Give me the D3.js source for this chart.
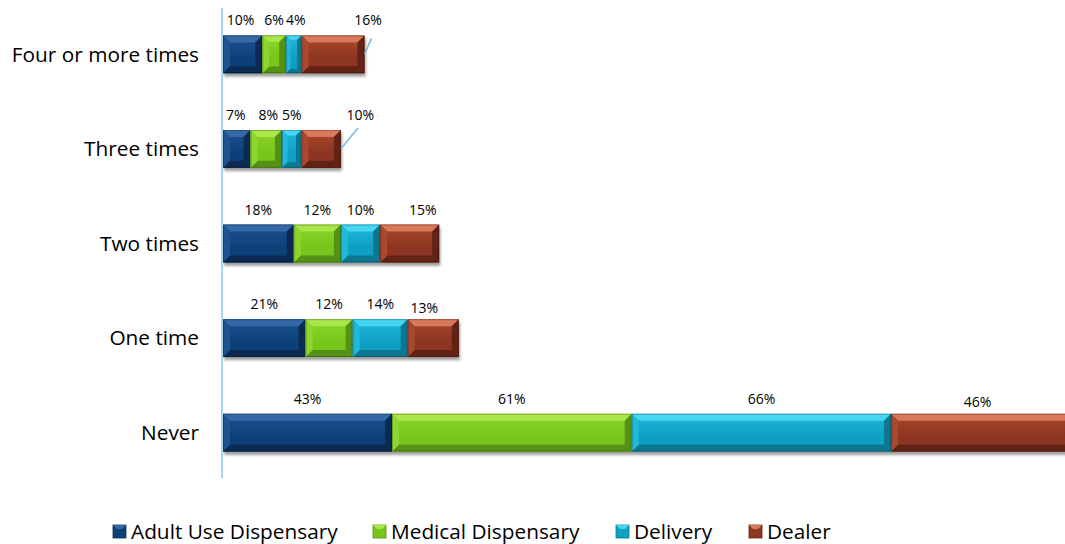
<!DOCTYPE html>
<html><head><meta charset="utf-8">
<script src="https://cdn.jsdelivr.net/npm/d3@7"></script>
<style>
html,body{margin:0;padding:0;background:#fff;overflow:hidden}
svg{display:block;font-family:"Open Sans",Lato,sans-serif}
</style></head><body>
<svg id="chart" width="1065" height="544"></svg>
<script>
const categories = ["Four or more times","Three times","Two times","One time","Never"];
const seriesNames = ["Adult Use Dispensary","Medical Dispensary","Delivery","Dealer"];
const adultUse = [10,7,18,21,43];
const medical = [6,8,12,12,61];
const delivery = [4,5,10,14,66];
const dealer = [16,10,15,13,46];
const seriesValues = [adultUse, medical, delivery, dealer];

const colors = [
  {base:"#0f4179", light:"#3569a6", dark:"#082b52", side:"#1c5290"},
  {base:"#78c51c", light:"#a8e64a", dark:"#559112", side:"#8bd72e"},
  {base:"#0fa0c2", light:"#45d6f2", dark:"#0a7690", side:"#22b8da"},
  {base:"#8d3620", light:"#d9785a", dark:"#622414", side:"#a8492e"}
];
// label nudges (px) for crowded labels: [category][series] -> [dx,dy]
const labelNudge = {"0-0":[-2,0],"0-2":[2,0],"0-3":[35,0],"1-0":[-1,0],"1-1":[2,0],"1-3":[39,0],"2-3":[13,0],"3-3":[-9,4],"4-3":[-4,3]};
const leaderCats = [0,1];

const svg = d3.select("#chart");
const x = d3.scaleLinear().domain([0,215]).range([223,1068]);
const y = d3.scaleBand().domain(categories).range([7,480]).paddingInner(0.6).paddingOuter(0.3);

const defs = svg.append("defs");
const f = defs.append("filter").attr("id","sh").attr("x","-5%").attr("y","-20%").attr("width","110%").attr("height","160%");
f.append("feGaussianBlur").attr("in","SourceAlpha").attr("stdDeviation",1.6);
f.append("feOffset").attr("dx",1).attr("dy",2.5).attr("result","b");
f.append("feComponentTransfer").append("feFuncA").attr("type","linear").attr("slope",0.4);
const m = f.append("feMerge"); m.append("feMergeNode"); m.append("feMergeNode").attr("in","SourceGraphic");

colors.forEach((c,i)=>{
  const g = defs.append("linearGradient").attr("id","g"+i).attr("x1",0).attr("x2",0).attr("y1",0).attr("y2",1);
  g.append("stop").attr("offset","0%").attr("stop-color",c.side);
  g.append("stop").attr("offset","60%").attr("stop-color",c.base);
  g.append("stop").attr("offset","100%").attr("stop-color",c.base);
});

// category labels
svg.append("g").selectAll("text").data(categories).join("text")
  .attr("x",199).attr("y",d=>y(d)+y.bandwidth()/2).attr("dy","0.35em")
  .attr("text-anchor","end").attr("font-size",20.8).attr("fill","#000").text(d=>d);

// stacked data
const rows = categories.map((c,ci)=>{let acc=0; return seriesValues.map((s,si)=>{const o={ci,si,cat:c,v:s[ci],x0:acc,x1:acc+s[ci]}; acc+=s[ci]; return o;});}).flat();

const bars = svg.append("g").attr("filter","url(#sh)");
rows.forEach(d=>{
  const x0=x(d.x0), x1=x(d.x1), yy=y(d.cat), h=y.bandwidth(), w=x1-x0;
  const b=Math.min(7, w/3.5, h/3.5);
  const c=colors[d.si];
  const g=bars.append("g");
  g.append("rect").attr("x",x0).attr("y",yy).attr("width",w).attr("height",h).attr("fill",`url(#g${d.si})`);
  const poly=(pts,fill)=>g.append("polygon").attr("points",pts.map(p=>p.join(",")).join(" ")).attr("fill",fill);
  poly([[x0,yy],[x1,yy],[x1-b,yy+b],[x0+b,yy+b]], c.light);
  poly([[x0,yy+h],[x1,yy+h],[x1-b,yy+h-b],[x0+b,yy+h-b]], c.dark);
  poly([[x0,yy],[x0+b,yy+b],[x0+b,yy+h-b],[x0,yy+h]], c.side);
  poly([[x1,yy],[x1-b,yy+b],[x1-b,yy+h-b],[x1,yy+h]], c.dark);
  g.append("rect").attr("x",x0+0.5).attr("y",yy+0.5).attr("width",w-1).attr("height",h-1).attr("fill","none").attr("stroke","rgba(0,0,0,0.25)").attr("stroke-width",1);
});

// axis line
svg.append("line").attr("x1",222).attr("x2",222).attr("y1",8).attr("y2",478).attr("stroke","#a9d3f2").attr("stroke-width",2);

// leader lines
leaderCats.forEach(ci=>{
  const d=rows.find(r=>r.ci===ci&&r.si===3);
  const xe=x(d.x1), yy=y(d.cat);
  svg.append("line").attr("x1",xe).attr("y1",yy+y.bandwidth()/2).attr("x2",xe+(ci===0?7:17)).attr("y2",yy+(ci===0?3:-2))
    .attr("stroke","#6fb7ea").attr("stroke-width",1.5);
});

// data labels
svg.append("g").selectAll("text").data(rows).join("text")
  .attr("x",d=>(x(d.x0)+x(d.x1))/2+((labelNudge[d.ci+"-"+d.si]||[0,0])[0]))
  .attr("y",d=>y(d.cat)-10+((labelNudge[d.ci+"-"+d.si]||[0,0])[1]))
  .attr("text-anchor","middle").attr("font-size",14).attr("fill","#000")
  .text(d=>d.v+"%");

// legend
const legX=[113,373,616,749];
const lg=svg.append("g");
seriesNames.forEach((n,i)=>{
  const c=colors[i];
  const gx=legX[i], gy=525;
  lg.append("rect").attr("x",gx).attr("y",gy).attr("width",13).attr("height",13).attr("fill",c.base).attr("stroke",c.dark).attr("stroke-width",0.8);
  lg.append("polygon").attr("points",`${gx},${gy} ${gx+13},${gy} ${gx+9},${gy+4} ${gx+4},${gy+4}`).attr("fill",c.light);
  lg.append("text").attr("x",gx+18).attr("y",gy+6.5).attr("dy","0.35em").attr("font-size",20.8).attr("fill","#000").text(n);
});
</script></body></html>
